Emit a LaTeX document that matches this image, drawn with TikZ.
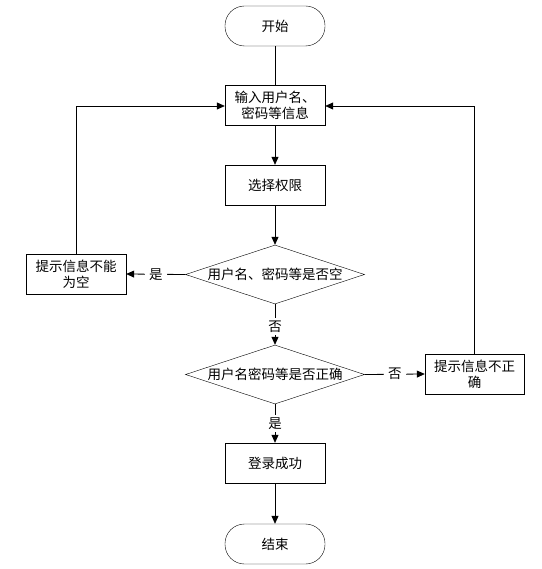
\documentclass[tikz,border=0pt]{standalone}
\usepackage{fontspec}
\setmainfont{Noto Sans CJK SC}
\usetikzlibrary{shapes.geometric,arrows.meta}
\begin{document}
\begin{tikzpicture}[x=1pt,y=-1pt,
  every node/.style={font=\fontsize{13.5}{16}\selectfont, inner sep=0pt},
  term/.style={draw, rounded corners=19.5pt, minimum width=100pt, minimum height=40pt},
  proc/.style={draw, minimum width=100pt, minimum height=40pt, align=center},
  dec/.style={draw, diamond, aspect=3, minimum width=179pt, minimum height=59pt},
  arr/.style={draw, line width=0.8pt, -{Triangle[length=8pt,width=7pt]}},
  ln/.style={draw, line width=0.8pt}]
\useasboundingbox (0,0) rectangle (541,569);
\node[term] (start) at (275,26) {开始};
\node[proc] (input) at (275,105) {输入用户名、\\密码等信息};
\node[proc] (sel) at (275,185) {选择权限};
\node[dec] (d1) at (275,274.5) {};
\node at (275,274.5) {用户名、密码等是否空};
\node[proc] (left) at (76,274) {提示信息不能\\为空};
\node[dec] (d2) at (275,374.5) {};
\node at (275,374.5) {用户名密码等是否正确};
\node[proc, minimum width=99pt] (right) at (474.5,374) {提示信息不正\\确};
\node[proc] (login) at (275,463) {登录成功};
\node[term] (end) at (275,544) {结束};
\coordinate (lt) at (76,106);
\coordinate (rt) at (474.5,106);
\draw[ln] (start) -- (input);
\draw[arr] (input) -- (sel);
\draw[arr] (sel) -- (d1);
\draw[arr] (d1.west) -- node[fill=white, inner xsep=4pt, inner ysep=1pt]{是} (left.east);
\draw[ln] (left.north) -- (lt);
\draw[arr] (lt) -- (input.west |- lt);
\draw[arr] (d1.south) -- node[fill=white, inner xsep=1pt, inner ysep=3pt, pos=0.55]{否} (d2.north);
\draw[arr] (d2.east) -- node[fill=white, inner xsep=4pt, inner ysep=1pt, pos=0.5]{否} (right.west);
\draw[ln] (right.north) -- (rt);
\draw[arr] (rt) -- (input.east |- rt);
\draw[arr] (d2.south) -- node[fill=white, inner xsep=1pt, inner ysep=3pt, pos=0.5]{是} (login.north);
\draw[arr] (login) -- (end);
\end{tikzpicture}
\end{document}
